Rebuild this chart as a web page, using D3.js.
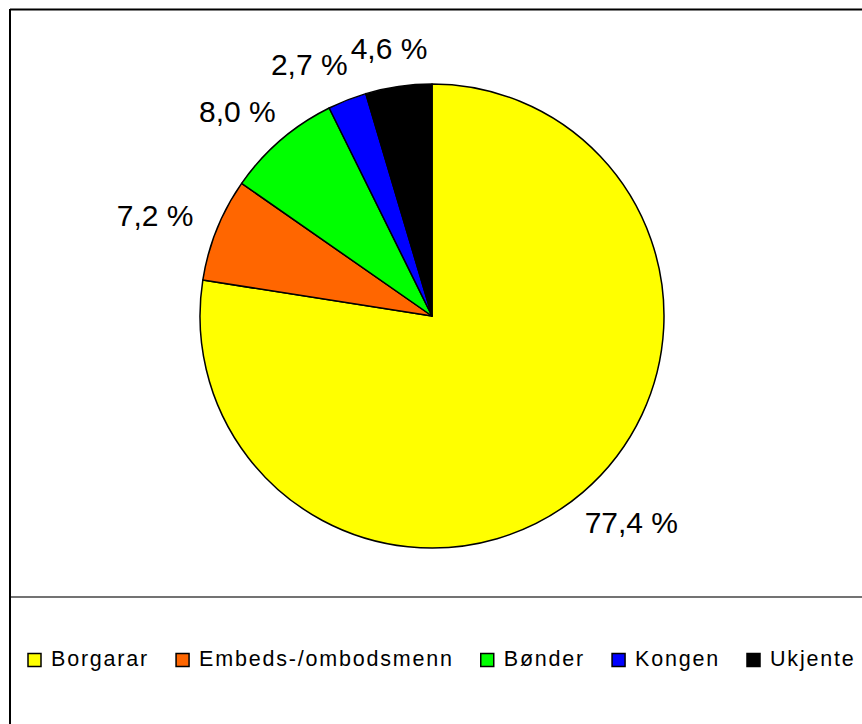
<html>
  <head>
    <meta charset="utf-8" />
    <script src="https://d3js.org/d3.v7.min.js"></script>
    <style>
      body { margin: 0; background: #fff; }
      text { font-family: Arial, "Liberation Sans", sans-serif; fill: #000; }
    </style>
  </head>
  <body>
    <svg id="chart" width="862" height="724"></svg>
    <script>
      // data
      const categories = ["Borgarar", "Embeds-/ombodsmenn", "Bønder", "Kongen", "Ukjente"];
      const shares = [77.4, 7.2, 8.0, 2.7, 4.6];
      const colours = ["#ffff00", "#ff6600", "#00ff00", "#0000ff", "#000000"];

      const svg = d3.select("#chart");
      const width = +svg.attr("width");
      const height = +svg.attr("height");

      // frame: top and left edge, plus the line above the legend
      svg.append("line").attr("x1", 10).attr("y1", 9.5).attr("x2", width).attr("y2", 9.5)
        .attr("stroke", "#000").attr("stroke-width", 2);
      svg.append("line").attr("x1", 10).attr("y1", 9).attr("x2", 10).attr("y2", height)
        .attr("stroke", "#000").attr("stroke-width", 2);
      svg.append("line").attr("x1", 11).attr("y1", 597).attr("x2", width).attr("y2", 597)
        .attr("stroke", "#444").attr("stroke-width", 1.3);

      const cx = 432, cy = 316, r = 232;
      const g = svg.append("g").attr("transform", "translate(" + cx + "," + cy + ")");

      const data = categories.map((c, i) => ({ name: c, value: shares[i], colour: colours[i] }));
      const pie = d3.pie().value(d => d.value).sort(null);
      const arc = d3.arc().innerRadius(0).outerRadius(r);
      const arcs = pie(data);

      g.selectAll("path.slice")
        .data(arcs)
        .join("path")
        .attr("class", "slice")
        .attr("d", arc)
        .attr("fill", d => d.data.colour)
        .attr("stroke", "#000")
        .attr("stroke-width", 1.5)
        .attr("stroke-linejoin", "round");

      // labels outside the pie, box pushed away from the edge
      const fs = 30, capH = 22, gap = 28;
      const fmt = v => d3.format(".1f")(v).replace(".", ",") + " %";
      const labels = g.selectAll("text.lbl")
        .data(arcs)
        .join("text")
        .attr("class", "lbl")
        .attr("font-size", fs)
        .attr("text-anchor", "middle")
        .text(d => fmt(d.data.value));

      const boxes = [];
      labels.each(function (d) {
        const w = this.getComputedTextLength();
        const a = (d.startAngle + d.endAngle) / 2;
        const s = Math.sin(a), c = Math.cos(a);
        const x = (r + gap) * s + (w / 2) * s;
        const y = -(r + gap) * c - (capH / 2) * c;
        boxes.push({ el: this, x: x, y: y, w: w });
      });
      // nudge a label left if it runs into the next one
      for (let i = boxes.length - 2; i >= 0; i--) {
        const a = boxes[i], b = boxes[i + 1];
        if (Math.abs(a.y - b.y) < capH && a.x + a.w / 2 > b.x - b.w / 2 - 3 && a.x < b.x) {
          a.x = b.x - b.w / 2 - 3 - a.w / 2;
        }
      }
      boxes.forEach(b => {
        d3.select(b.el).attr("x", b.x).attr("y", b.y + capH / 2);
      });

      // legend
      const legend = svg.append("g");
      let lx = 28;
      data.forEach(d => {
        legend.append("rect")
          .attr("x", lx).attr("y", 653.5)
          .attr("width", 13).attr("height", 13)
          .attr("fill", d.colour)
          .attr("stroke", "#000").attr("stroke-width", 1.5);
        const t = legend.append("text")
          .attr("x", lx + 23).attr("y", 666)
          .attr("font-size", 21.5)
          .attr("letter-spacing", 1.8)
          .text(d.name);
        lx += 23 + t.node().getComputedTextLength() + 27;
      });
    </script>
  </body>
</html>
